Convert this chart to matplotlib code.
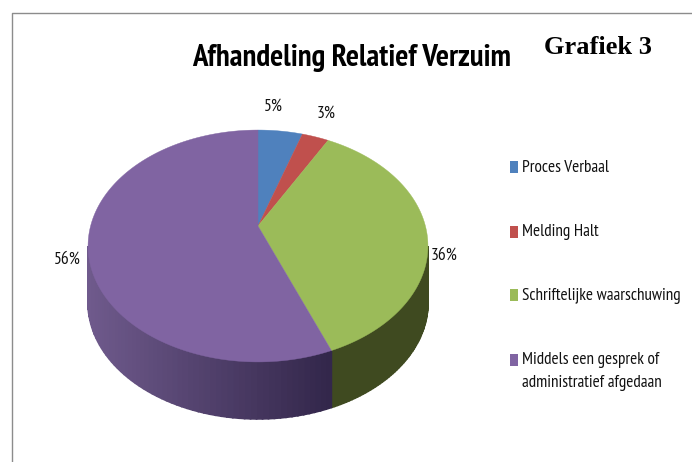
import numpy as np
import matplotlib
matplotlib.use("Agg")
import matplotlib.pyplot as plt
from matplotlib.patches import Polygon, Rectangle
from matplotlib import font_manager as fm

categories = ["Proces Verbaal", "Melding Halt", "Schriftelijke waarschuwing",
              "Middels een gesprek of\nadministratief afgedaan"]
values = [5, 3, 36, 56]
top_colors = ["#4f81bd", "#c0504d", "#9bbb59", "#8064a2"]
wall_dark = {2: ("#3f4a20", "#3f4a20"), 3: ("#32264a", "#6f5a8c")}
title = "Afhandeling Relatief Verzuim"
side_title = "Grafiek 3"

names = {f.name for f in fm.fontManager.ttflist}
sans = "PT Sans Narrow" if "PT Sans Narrow" in names else "Lato"

W, H = 692, 462
fig = plt.figure(figsize=(W / 100, H / 100), dpi=100)
ax = fig.add_axes([0, 0, 1, 1])
ax.set_xlim(0, W); ax.set_ylim(H, 0); ax.axis("off")

# frame
ax.plot([11.5, 11.5, W], [H, 12.5, 12.5], color="#8c8c8c", lw=1.0, solid_capstyle="butt")

# perspective projection of the pie's unit circle
CX, CY, k, a, A, DEPTH = 258, 226, 0.1724, 112.5, 167.4, 57
def rim(frac):
    th = 2 * np.pi * np.asarray(frac)
    X, Yf = np.sin(th), -np.cos(th)
    s = 1 / (1 - k * Yf)
    return CX + A * X * s, CY + a * Yf * s

edges = np.concatenate([[0], np.cumsum(values)]) / np.sum(values)

# side walls (visible front part of the rim)
fine = np.linspace(0, 1, 1441)
fx, fy = rim(fine)
f_right = fine[np.argmax(fx)]
f_left = fine[np.argmin(fx)]
for i in range(len(values)):
    lo, hi = max(edges[i], f_right), min(edges[i + 1], f_left)
    if hi <= lo or i not in wall_dark:
        continue
    n = 60
    fr = np.linspace(lo, hi, n + 1)
    xs, ys = rim(fr)
    c_right, c_left = (np.array(matplotlib.colors.to_rgb(c)) for c in wall_dark[i])
    xmin, xmax = xs.min(), xs.max()
    for j in range(n):
        t = (0.5 * (xs[j] + xs[j + 1]) - xmin) / max(xmax - xmin, 1)
        col = c_left * (1 - t) + c_right * t
        ax.add_patch(Polygon([(xs[j], ys[j]), (xs[j + 1], ys[j + 1]),
                              (xs[j + 1], ys[j + 1] + DEPTH), (xs[j], ys[j] + DEPTH)],
                             closed=True, fc=col, ec=col, lw=1.2))

# top faces
for i, c in enumerate(top_colors):
    fr = np.linspace(edges[i], edges[i + 1], 200)
    xs, ys = rim(fr)
    ax.add_patch(Polygon(np.column_stack([np.r_[CX, xs], np.r_[CY, ys]]),
                         closed=True, fc=c, ec=c, lw=0.3))

# percentage labels
label_pos = [(273, 107), (326, 114), (444, 256), (67, 260)]
for v, (x, y) in zip(values, label_pos):
    ax.text(x, y, f"{v}%", ha="center", va="center", fontsize=12.5,
            family=sans, color="#111111")

# titles
ax.text(351.5, 58, title, ha="center", va="center", fontsize=22.2, fontweight="bold",
        family=sans, color="black")
ax.text(598, 48, side_title, ha="center", va="center", fontsize=19, fontweight="bold",
        family="Liberation Serif", color="black")

# legend
legend_y = [167, 231.5, 295, 359.5]
for name, c, y in zip(categories, top_colors, legend_y):
    ax.add_patch(Rectangle((509.5, y - 6), 8.5, 12, fc=c, ec="none"))
    ax.text(522, y - 7, name, ha="left", va="top", fontsize=12.3, family=sans,
            color="#111111", linespacing=1.55)

fig.savefig("out.png", dpi=100)
